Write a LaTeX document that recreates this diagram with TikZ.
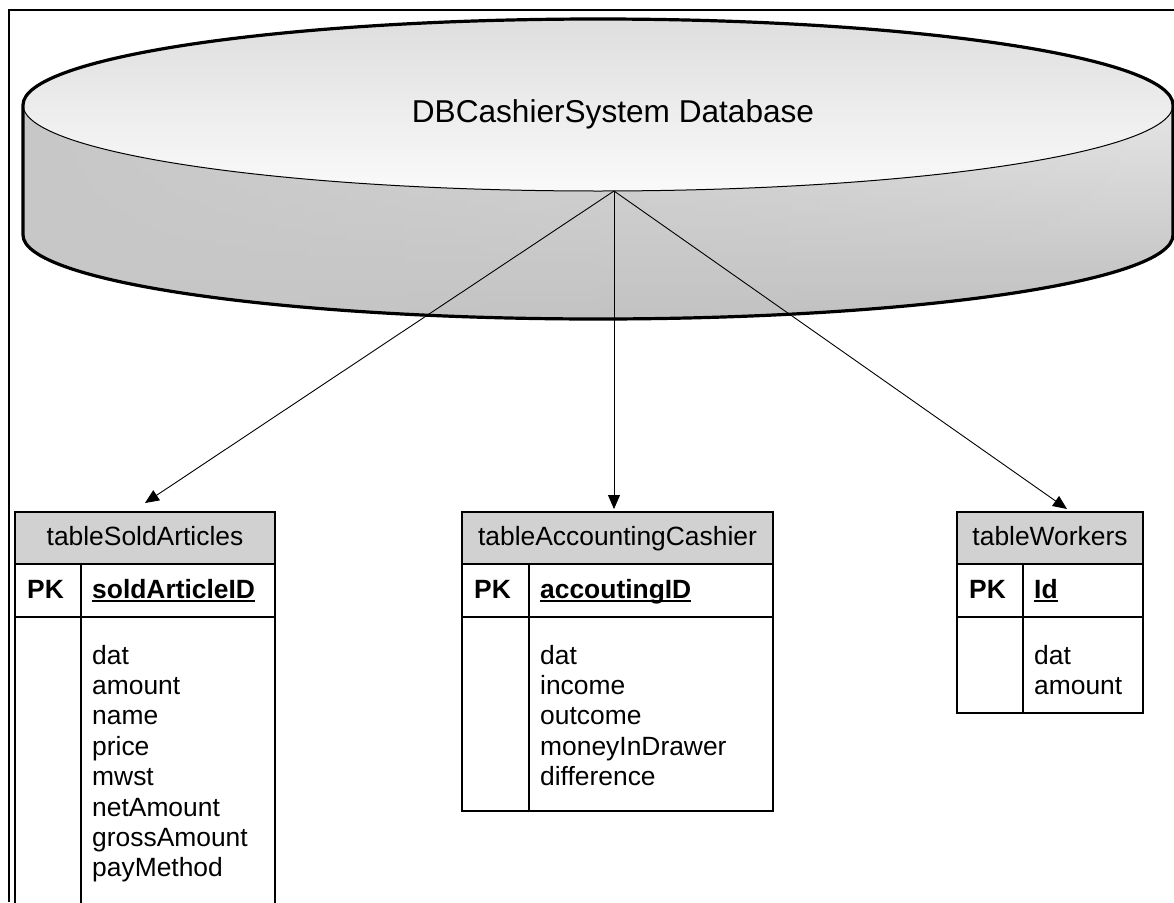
\documentclass[tikz,border=0pt]{standalone}
\usepackage{fontspec}
\setmainfont{Liberation Sans}
\usetikzlibrary{arrows.meta,calc,fadings}
\definecolor{hdrgray}{HTML}{D1D1D1}

% left-to-centre fade used to darken the left of the cylinder wall
\tikzfading[name=wallfade, left color=transparent!0, middle color=transparent!100, right color=transparent!100]

% bold key name with a heavy underline
\newcommand\keyul[1]{\setbox0\hbox{\bfseries #1}\rlap{\rule[-3.5pt]{\wd0}{1.8pt}}\box0}

% one entity table: name, left, right, divider x, bottom y, title, key, fields
\newcommand\dbtable[8]{%
  \node[hdr, minimum width={(#3-#2)*1pt}] (#1) at (#2,512) {#6};
  \draw[tbl] (#2,564) rectangle (#3,617);
  \draw[tbl] (#2,617) -- (#2,#5) (#3,617) -- (#3,#5) (#4,564) -- (#4,#5);
  \coordinate (#1-bl) at (#2,#5);
  \coordinate (#1-br) at (#3,#5);
  \node[pk] (#1-pk) at (#2+12,598) {PK};
  \node[pk] (#1-key) at (#4+11,598) {\keyul{#7}};
  \foreach \f [count=\i from 0] in {#8}
    \node[field] (#1-f\i) at (#4+11,664+30.4*\i) {\f};
}

\begin{document}
\begin{tikzpicture}[x=1pt,y=-1pt,
  frame/.style={line width=1.3pt},
  tbl/.style={line width=1.5pt, line cap=rect},
  hdr/.style={draw, line width=1.5pt, fill=hdrgray, inner sep=0pt, outer sep=0pt,
    anchor=north west, minimum height=52pt, text height=19pt, text depth=5pt,
    font=\fontsize{26.4}{30}\selectfont},
  pk/.style={anchor=base west, inner sep=0pt, font=\fontsize{26.4}{30}\selectfont\bfseries},
  field/.style={anchor=base west, inner sep=0pt, font=\fontsize{26.4}{30}\selectfont},
  link/.style={line width=0.9pt, -{Triangle[length=14pt,width=12pt]}},
]
\useasboundingbox (0,0) rectangle (1174,902);

% page frame
\draw[frame] (9,902) -- (9,10) -- (1174,10);

% database cylinder: side wall, top face, outlines
\path[top color=black!10, bottom color=black!25]
  (23,105) -- (23,235) arc[start angle=180, end angle=360, x radius=575pt, y radius=84pt]
  -- (1173,105) arc[start angle=0, end angle=-180, x radius=575pt, y radius=86pt] -- cycle;
\fill[black!22, path fading=wallfade]
  (23,105) -- (23,235) arc[start angle=180, end angle=360, x radius=575pt, y radius=84pt]
  -- (1173,105) arc[start angle=0, end angle=-180, x radius=575pt, y radius=86pt] -- cycle;
\shade[top color=black!13, bottom color=black!2]
  (598,105) ellipse[x radius=575pt, y radius=86pt];
\draw[line width=1pt] (23,105) arc[start angle=180, end angle=360, x radius=575pt, y radius=86pt];
\draw[line width=3.2pt, line join=round]
  (23,235) -- (23,105) arc[start angle=180, end angle=0, x radius=575pt, y radius=86pt]
  -- (1173,235) arc[start angle=0, end angle=-180, x radius=575pt, y radius=84pt];
\node[anchor=base, inner sep=0pt, font=\fontsize{31.6}{36}\selectfont] (dbtitle) at (613,122)
  {DBCashierSystem Database};
\coordinate (hub) at (614,191);

% tables
\dbtable{t1}{15}{275}{81}{902}{tableSoldArticles}{soldArticleID}
  {dat,amount,name,price,mwst,netAmount,grossAmount,payMethod}
\dbtable{t2}{462}{773}{529}{811}{tableAccountingCashier}{accoutingID}
  {dat,income,outcome,moneyInDrawer,difference}
\dbtable{t3}{957}{1143}{1023}{713}{tableWorkers}{Id}
  {dat,amount}
\draw[tbl] (t2-bl) -- (t2-br);
\draw[tbl] (t3-bl) -- (t3-br);

% links from the database to each table
\draw[link] (hub) -- ($(t1.north)+(0,-9)$);
\draw[link] (hub) -- ($(t2.north -| hub)+(0,-3)$);
\draw[link] (hub) -- ($(t3.north)+(17,-3)$);
\end{tikzpicture}
\end{document}
